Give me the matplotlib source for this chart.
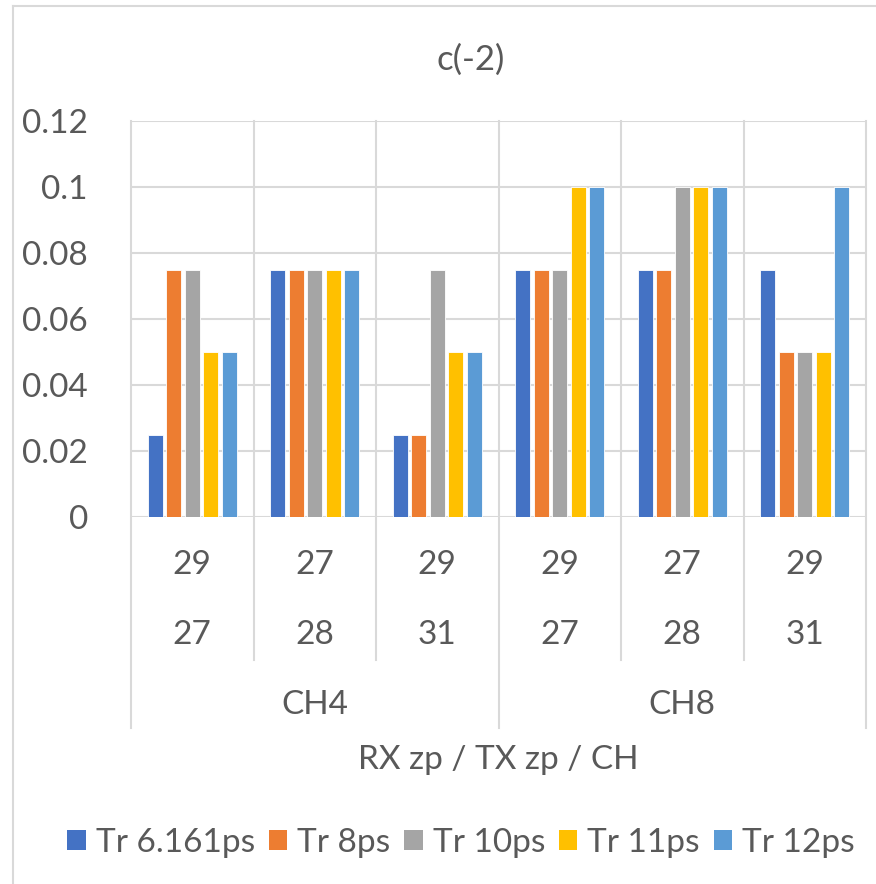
import matplotlib
matplotlib.use("Agg")
import matplotlib.pyplot as plt
import numpy as np
from matplotlib.lines import Line2D
from matplotlib.patches import Patch
import matplotlib.transforms as mtransforms

plt.rcParams['font.family'] = ['Lato', 'DejaVu Sans']

# ---------------- data ----------------
rx_zp = ["29", "27", "29", "29", "27", "29"]
tx_zp = ["27", "28", "31", "27", "28", "31"]
channels = ["CH4", "CH8"]
series_names = ["Tr 6.161ps", "Tr 8ps", "Tr 10ps", "Tr 11ps", "Tr 12ps"]
tr_6161 = [0.025, 0.075, 0.025, 0.075, 0.075, 0.075]
tr_8 = [0.075, 0.075, 0.025, 0.075, 0.075, 0.05]
tr_10 = [0.075, 0.075, 0.075, 0.075, 0.1, 0.05]
tr_11 = [0.05, 0.075, 0.05, 0.1, 0.1, 0.05]
tr_12 = [0.05, 0.075, 0.05, 0.1, 0.1, 0.1]
yticks = [0, 0.02, 0.04, 0.06, 0.08, 0.1, 0.12]

COLORS = ["#4472C4", "#ED7D31", "#A5A5A5", "#FFC000", "#5B9BD5"]
GRID = "#D9D9D9"
TEXT = "#595959"
FS = 24

W, H = 876, 884
fig = plt.figure(figsize=(W / 100, H / 100), dpi=100, facecolor="white")
ax = fig.add_axes([131 / W, 1 - 517 / H, (866 - 131) / W, (517 - 121) / H])
ax.set_facecolor("white")

series = [tr_6161, tr_8, tr_10, tr_11, tr_12]
n = len(rx_zp)
x = np.arange(n) + 0.5
step, bw = 0.151, 0.12
for i, (vals, c, name) in enumerate(zip(series, COLORS, series_names)):
    ax.bar(x + (i - 2) * step, vals, width=bw, color=c, edgecolor="white",
           linewidth=0.6, label=name, zorder=3)

ax.set_xlim(0, n)
ax.set_ylim(0, 0.12)
ax.set_yticks(yticks)
ax.set_yticklabels([f"{v:g}" for v in yticks])
ax.tick_params(axis="y", length=0, pad=31, labelsize=FS, labelcolor=TEXT)
ax.set_xticks([])
for s in ax.spines.values():
    s.set_visible(False)

# horizontal gridlines
for v in yticks:
    ax.axhline(v, color=GRID, lw=1.5, zorder=1)

# vertical category separators extending into the multi-level axis
tr = mtransforms.blended_transform_factory(ax.transData, ax.transAxes)
for b in range(n + 1):
    bottom = -0.533 if b in (0, 3, 6) else -0.361
    ax.plot([b, b], [1, bottom], color=GRID, lw=1.5, transform=tr,
            clip_on=False, zorder=1)

# multi-level category labels
for i in range(n):
    ax.text(x[i], -0.121, rx_zp[i], transform=tr, ha="center", va="center",
            fontsize=FS, color=TEXT)
    ax.text(x[i], -0.298, tx_zp[i], transform=tr, ha="center", va="center",
            fontsize=FS, color=TEXT)
for j, ch in enumerate(channels):
    ax.text(1.5 + 3 * j, -0.475, ch, transform=tr, ha="center", va="center",
            fontsize=FS, color=TEXT)
ax.text(0.5, -0.614, "RX zp / TX zp / CH", transform=ax.transAxes,
        ha="center", va="center", fontsize=FS, color=TEXT)

fig.text(471 / W, 1 - 60 / H, "c(-2)", ha="center", va="center",
         fontsize=FS + 1, color=TEXT)

handles = [Patch(facecolor=c, edgecolor="none") for c in COLORS]
leg = fig.legend(handles, series_names, loc="center", ncol=5,
                 bbox_to_anchor=(461 / W, 1 - 843 / H), frameon=False,
                 fontsize=FS, handlelength=0.55, handleheight=0.55,
                 handletextpad=0.3, columnspacing=0.42, borderpad=0)
for t in leg.get_texts():
    t.set_color(TEXT)

# chart area border (top and left visible)
fig.add_artist(Line2D([13 / W, 1], [1 - 6 / H, 1 - 6 / H], color=GRID, lw=1.5))
fig.add_artist(Line2D([13 / W, 13 / W], [0, 1 - 6 / H], color=GRID, lw=1.5))

fig.savefig("out.png", dpi=100, facecolor="white")
